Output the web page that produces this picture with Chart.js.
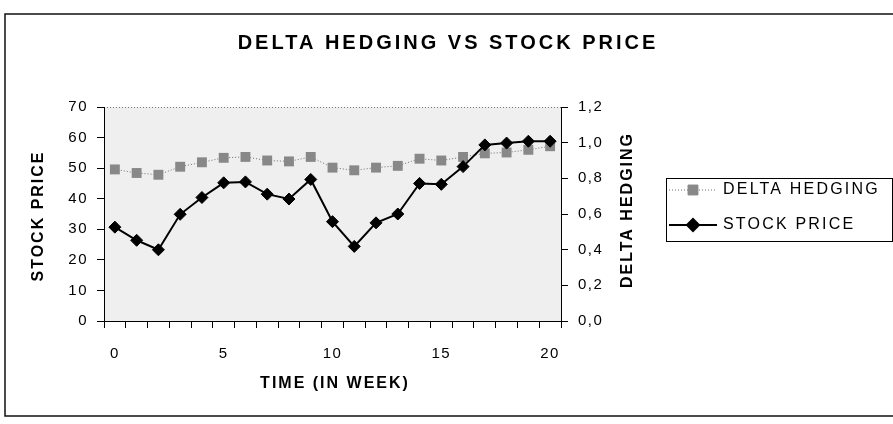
<!DOCTYPE html>
<html>
<head>
<meta charset="utf-8">
<script src="https://cdn.jsdelivr.net/npm/chart.js@4.4.1/dist/chart.umd.min.js"></script>
<style>
  html, body { margin:0; padding:0; background:#fff; }
  #wrap { width:893px; height:424px; position:relative; }
</style>
</head>
<body>
<div id="wrap"><canvas id="chart"></canvas></div>
<script>
// data
const weeks = [0,1,2,3,4,5,6,7,8,9,10,11,12,13,14,15,16,17,18,19,20];
const weekLabels = [0,5,10,15,20];
const stockPrice = [30.7,26.4,23.3,34.9,40.4,45.2,45.5,41.5,39.9,46.3,32.5,24.4,32.1,35.0,45.0,44.7,50.5,57.6,58.2,58.8,58.8];
const deltaHedging = [0.85,0.83,0.82,0.865,0.89,0.915,0.92,0.90,0.895,0.92,0.86,0.845,0.86,0.87,0.91,0.90,0.92,0.94,0.945,0.96,0.98];
const seriesNames = ['DELTA HEDGING','STOCK PRICE'];

const FONT = "'Liberation Sans', Arial, sans-serif";

function label(ctx, s, x, y, font, spacing, rot, align) {
    ctx.save();
    ctx.translate(x, y);
    if (rot) ctx.rotate(rot);
    ctx.font = font;
    ctx.letterSpacing = spacing + 'px';
    ctx.textAlign = align || 'center';
    ctx.textBaseline = 'middle';
    ctx.fillStyle = '#000';
    ctx.fillText(s, 0, 0);
    ctx.restore();
}

// background, plot fill, titles, legend box, outer frame
const decor = {
    id: 'decor',
    beforeDraw(chart) {
        const ctx = chart.ctx, a = chart.chartArea;
        ctx.save();
        ctx.fillStyle = '#fff';
        ctx.fillRect(0, 0, chart.width, chart.height);
        ctx.fillStyle = '#efefef';
        ctx.fillRect(a.left, a.top, a.right - a.left, a.bottom - a.top);
        ctx.strokeStyle = '#777';
        ctx.lineWidth = 1;
        ctx.setLineDash([1,2]);
        ctx.beginPath();
        ctx.moveTo(a.left, a.top + 0.5);
        ctx.lineTo(a.right, a.top + 0.5);
        ctx.stroke();
        ctx.restore();
        ctx.letterSpacing = '1.5px';
    },
    afterDraw(chart) {
        const ctx = chart.ctx, a = chart.chartArea;
        ctx.letterSpacing = '0px';

        label(ctx, 'DELTA HEDGING VS STOCK PRICE', 448, 43, 'bold 20px ' + FONT, 3);
        label(ctx, 'STOCK PRICE', 39, 216, 'bold 16px ' + FONT, 2, -Math.PI/2);
        label(ctx, 'DELTA HEDGING', 628, 210, 'bold 16px ' + FONT, 2, -Math.PI/2);
        label(ctx, 'TIME (IN WEEK)', 335, 384, 'bold 16px ' + FONT, 2);

        // legend
        ctx.save();
        ctx.strokeStyle = '#000';
        ctx.lineWidth = 1;
        ctx.strokeRect(666.5, 178.5, 226, 63);
        const rows = [190, 225];
        chart.data.datasets.forEach((ds, i) => {
            const y = rows[i];
            ctx.save();
            ctx.strokeStyle = ds.borderColor;
            ctx.lineWidth = ds.borderWidth;
            ctx.setLineDash(ds.borderDash || []);
            ctx.beginPath();
            ctx.moveTo(669, y);
            ctx.lineTo(717, y);
            ctx.stroke();
            ctx.setLineDash([]);
            ctx.fillStyle = ds.pointBackgroundColor;
            ctx.strokeStyle = ds.pointBorderColor;
            Chart.helpers.drawPoint(ctx, {
                pointStyle: ds.pointStyle, radius: ds.pointRadius,
                rotation: 0, borderWidth: 1
            }, 693, y);
            ctx.restore();
            label(ctx, seriesNames[i], 723, y, '16px ' + FONT, 2.2, 0, 'left');
        });
        ctx.restore();

        // outer frame of the scanned chart
        ctx.save();
        ctx.strokeStyle = '#111';
        ctx.lineWidth = 1.5;
        ctx.beginPath();
        ctx.moveTo(893, 14);
        ctx.lineTo(5, 14);
        ctx.lineTo(5, 416);
        ctx.lineTo(893, 416);
        ctx.stroke();
        ctx.restore();
    }
};

new Chart(document.getElementById('chart'), {
    type: 'line',
    data: {
        labels: weeks,
        datasets: [
            {
                label: seriesNames[0],
                data: deltaHedging,
                yAxisID: 'y1',
                order: 1,
                borderColor: '#6e6e6e',
                borderWidth: 1,
                borderDash: [1,2],
                pointStyle: 'rect',
                pointRadius: 7,
                pointBackgroundColor: '#888888',
                pointBorderColor: '#888888',
                pointBorderWidth: 0,
                tension: 0
            },
            {
                label: seriesNames[1],
                data: stockPrice,
                yAxisID: 'y',
                order: 0,
                borderColor: '#000',
                borderWidth: 2,
                pointStyle: 'rectRot',
                pointRadius: 6,
                pointBackgroundColor: '#000',
                pointBorderColor: '#000',
                pointBorderWidth: 1,
                tension: 0
            }
        ]
    },
    options: {
        responsive: true,
        maintainAspectRatio: false,
        animation: false,
        layout: { padding: { top: 107, bottom: 43, left: 0, right: 232 } },
        plugins: {
            legend: { display: false },
            title: { display: false },
            tooltip: { enabled: false }
        },
        scales: {
            x: {
                type: 'category',
                offset: true,
                grid: { offset: true, drawOnChartArea: false, tickLength: 7, color: '#000' },
                border: { color: '#000', width: 1 },
                ticks: {
                    autoSkip: false, maxRotation: 0, padding: 17,
                    color: '#000', font: { family: FONT, size: 15 },
                    callback: (v, i) => weekLabels.includes(weeks[i]) ? String(weeks[i]) : ''
                },
                afterFit: s => { s.height = 60; }
            },
            y: {
                position: 'left',
                min: 0, max: 70,
                grid: { drawOnChartArea: false, tickLength: 7, color: '#000' },
                border: { color: '#000', width: 1 },
                ticks: {
                    stepSize: 10, padding: 9,
                    color: '#000', font: { family: FONT, size: 15 }
                },
                afterFit: s => { s.width = 104; }
            },
            y1: {
                position: 'right',
                min: 0, max: 1.2,
                grid: { drawOnChartArea: false, tickLength: 7, color: '#000' },
                border: { color: '#000', width: 1 },
                ticks: {
                    stepSize: 0.2, padding: 10,
                    color: '#000', font: { family: FONT, size: 15 },
                    callback: v => v.toFixed(1).replace('.', ',')
                },
                afterFit: s => { s.width = 100; }
            }
        }
    },
    plugins: [decor]
});
</script>
</body>
</html>
